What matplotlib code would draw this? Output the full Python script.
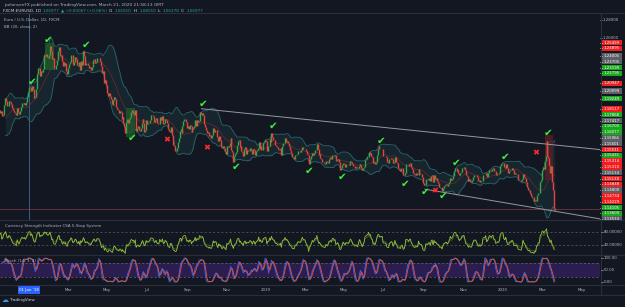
import numpy as np
import pandas as pd
import matplotlib
matplotlib.use('Agg')
import matplotlib.pyplot as plt
from matplotlib.patches import Rectangle

# FXCM:EURUSD daily closes, in pips (price x 10000)
close_2017 = [
    11645, 11645, 11620, 11655, 11610, 11610, 11585, 11590, 11645, 11665,   # Oct 30 - Nov 10
    11665, 11795, 11795, 11770, 11790, 11730, 11740, 11825, 11855, 11930,   # Nov 13 - Nov 24
    11896, 11845, 11847, 11905, 11893, 11863, 11826, 11795, 11773, 11773,   # Nov 27 - Dec 8
    11771, 11740, 11825, 11780, 11750, 11785, 11838, 11876, 11873, 11865,   # Dec 11 - Dec 22
    11880, 11860, 11892, 11940, 12005]                                      # Dec 25 - Dec 29
close_2018 = [
    12060, 12057, 12016, 12067, 12030, 11968, 11935, 11945, 12035, 12200,   # Jan
    12263, 12263, 12180, 12235, 12225, 12260, 12300, 12410, 12395, 12425,
    12385, 12380, 12415,
    12510, 12460, 12370, 12375, 12270, 12255, 12250, 12295, 12355, 12450,   # Feb
    12505, 12405, 12410, 12340, 12285, 12330, 12295, 12320, 12230, 12195,
    12265, 12315, 12335, 12410, 12410, 12310, 12305, 12335, 12390, 12370,   # Mar
    12305, 12290, 12335, 12240, 12345, 12300, 12355, 12450, 12400, 12305,
    12320, 12325,
    12300, 12270, 12275, 12240, 12280, 12315, 12355, 12365, 12325, 12330,   # Apr
    12380, 12375, 12375, 12345, 12285, 12210, 12230, 12235, 12100, 12130,
    12075,
    11990, 11950, 11985, 11960, 11925, 11865, 11850, 11915, 11940, 11925,   # May
    11835, 11810, 11795, 11770, 11790, 11780, 11700, 11720, 11655, 11625,
    11540, 11665, 11695,
    11660, 11695, 11720, 11775, 11800, 11770, 11780, 11740, 11795, 11570,   # Jun
    11605, 11625, 11575, 11570, 11605, 11655, 11700, 11655, 11555, 11575,
    11685,
    11640, 11655, 11660, 11690, 11745, 11745, 11740, 11730, 11670, 11685,   # Jul
    11710, 11660, 11645, 11645, 11720, 11690, 11685, 11730, 11645, 11660,
    11705, 11690,
    11660, 11585, 11565, 11550, 11610, 11600, 11525, 11410, 11405, 11345,   # Aug
    11345, 11380, 11440, 11485, 11570, 11590, 11540, 11625, 11680, 11700,
    11705, 11670, 11600,
    11620, 11585, 11630, 11625, 11550, 11590, 11600, 11625, 11690, 11625,   # Sep
    11685, 11670, 11675, 11775, 11750, 11745, 11770, 11740, 11645, 11610,
    11580, 11545, 11550, 11510, 11525, 11490, 11490, 11525, 11595, 11560,   # Oct
    11580, 11575, 11500, 11450, 11510, 11465, 11470, 11390, 11375, 11400,
    11375, 11340, 11310,
    11405, 11385, 11405, 11430, 11485, 11360, 11335, 11225, 11290, 11315,   # Nov
    11330, 11415, 11455, 11470, 11385, 11405, 11340, 11335, 11290, 11370,
    11390, 11315,
    11350, 11340, 11340, 11375, 11380, 11355, 11315, 11370, 11360, 11305,   # Dec
    11345, 11360, 11375, 11445, 11370, 11405, 11355, 11360, 11435, 11445,
    11465]
close_2019 = [
    11460, 11345, 11395, 11395, 11475, 11440, 11545, 11500, 11470, 11470,   # Jan
    11410, 11395, 11390, 11365, 11360, 11365, 11380, 11305, 11405, 11430,
    11430, 11485, 11445,
    11455, 11435, 11405, 11360, 11345, 11325, 11275, 11280, 11260, 11295,   # Feb
    11295, 11310, 11340, 11340, 11335, 11335, 11360, 11390, 11370, 11370,
    11365, 11340, 11310, 11305, 11195, 11235, 11250, 11285, 11325, 11305,   # Mar
    11325, 11355, 11350, 11420, 11370, 11300, 11315, 11270, 11250, 11225,
    11220,
    11215, 11205, 11235, 11225, 11215, 11260, 11265, 11275, 11260, 11300,   # Apr
    11305, 11285, 11295, 11235, 11245, 11255, 11225, 11155, 11135, 11150,
    11185, 11215,
    11195, 11170, 11200, 11195, 11195, 11190, 11215, 11235, 11225, 11205,   # May
    11175, 11175, 11160, 11165, 11160, 11150, 11180, 11205, 11190, 11160,
    11130, 11150, 11170,
    11240, 11255, 11275, 11275, 11335, 11310, 11325, 11285, 11275, 11210,   # Jun
    11220, 11195, 11225, 11295, 11370, 11395, 11365, 11370, 11370, 11370,
    11285, 11285, 11285, 11280, 11225, 11215, 11210, 11250, 11255, 11270,   # Jul
    11260, 11210, 11225, 11275, 11220, 11210, 11150, 11140, 11145, 11125,
    11150, 11155, 11075,
    11080, 11105, 11205, 11200, 11200, 11180, 11205, 11215, 11170, 11140,   # Aug
    11105, 11090, 11080, 11095, 11080, 11080, 11140, 11100, 11090, 11090,
    11055, 10985,
    10965, 10970, 11035, 11035, 11025, 11045, 11045, 11010, 11065, 11075,   # Sep
    11000, 11075, 11030, 11045, 11015, 10990, 10990, 10940, 10940, 10940,
    10900,
    10935, 10960, 10965, 10975, 10970, 10955, 10975, 10995, 11045, 11025,   # Oct
    11035, 11070, 11125, 11155, 11150, 11125, 11135, 11105, 11080, 11100,
    11110, 11155, 11150,
    11165, 11130, 11075, 11070, 11050, 11015, 11030, 11010, 11005, 11020,   # Nov
    11050, 11075, 11075, 11075, 11055, 11025, 11010, 11020, 11005, 11010,
    11015,
    11075, 11080, 11080, 11105, 11055, 11065, 11095, 11135, 11130, 11120,   # Dec
    11145, 11150, 11120, 11120, 11080, 11085, 11090, 11090, 11100, 11180,
    11200, 11215]
close_2020 = [
    11215, 11170, 11160, 11195, 11150, 11105, 11105, 11120, 11135, 11130,   # Jan
    11150, 11135, 11090, 11095, 11085, 11090, 11055, 11025, 11020, 11020,
    11010, 11030, 11090,
    11060, 11045, 11000, 10980, 10945, 10910, 10915, 10875, 10840, 10830,   # Feb
    10835, 10790, 10805, 10790, 10845, 10850, 10880, 10880, 10995, 11025,
    11135, 11170, 11140, 11235, 11285, 11450, 11285, 11270, 11185, 11100,   # Mar
    11180, 10995, 10910, 10715, 10690]

# tick marks / cross marks placed on the chart
check_dates = ['2018-01-30', '2018-03-29', '2018-01-04', '2018-06-08', '2018-09-26',
               '2018-11-15', '2019-01-11', '2019-03-08', '2019-04-29', '2019-06-27',
               '2019-08-02', '2019-09-03', '2019-10-01', '2019-10-22', '2020-01-03',
               '2020-03-11']
check_prices = [1.2578, 1.2522, 1.2111, 1.1490, 1.1867, 1.1167, 1.1622, 1.1122, 1.1056,
                1.1456, 1.0978, 1.0889, 1.0844, 1.1211, 1.1278, 1.1544]
cross_dates = ['2018-08-01', '2018-10-02', '2019-09-18', '2020-02-20']
cross_prices = [1.1467, 1.1378, 1.0905, 1.1322]

# channel lines (date, price)
upper_line = [('2018-09-24', 1.1814), ('2020-05-29', 1.1360)]
lower_line = [('2019-09-03', 1.0920), ('2020-05-29', 1.0590)]

# position boxes: start, end, top, bottom, colour
boxes = [('2018-01-25', '2018-02-08', 1.2544, 1.2244, '#1e5a2a'),
         ('2018-05-30', '2018-06-13', 1.1822, 1.1500, '#1e5a2a'),
         ('2020-03-05', '2020-03-18', 1.1520, 1.1020, '#5a1e28')]

# price scale labels on the right
scale_vals = ['1.25499', '1.24895', '1.24005', '1.23705', '1.23199', '1.22795', '1.20947',
              '1.20099', '1.19249', '1.18117', '1.17868', '1.17417', '1.16700', '1.16077',
              '1.15966', '1.15601', '1.15531', '1.15431', '1.15314', '1.15310', '1.15134',
              '1.15130', '1.14848', '1.14800', '1.14734', '1.14229', '1.14105', '1.13600',
              '1.13534']
scale_cols = ['r', 'r', 'k', 'k', 'g', 'g', 'r', 'k', 'g', 'r', 'g', 'k', 'g', 'g',
              'k', 'k', 'r', 'g', 'r', 'r', 'k', 'r', 'r', 'k', 'r', 'r', 'g', 'g', 'k']

tick_months = ['2018-03', '2018-05', '2018-07', '2018-09', '2018-11', '2019-01', '2019-03',
               '2019-05', '2019-07', '2019-09', '2019-11', '2020-01', '2020-03', '2020-05']
tick_labels = ['Mar', 'May', 'Jul', 'Sep', 'Nov', '2019', 'Mar', 'May', 'Jul', 'Sep',
               'Nov', '2020', 'Mar', 'May']

last_close = 1.06977

W, H = 625, 307
BG = '#131722'
GRID = '#2a2e39'
TXT = '#b2b5be'
UPC = '#3aa648'
DNC = '#f0403a'
BOXC = {'r': '#f01e1e', 'g': '#17a81d', 'k': '#5d5f66'}

closes = np.array(close_2017 + close_2018 + close_2019 + close_2020) / 10000.0
dates = pd.bdate_range('2017-10-30', periods=len(closes))
cal = pd.bdate_range('2017-10-30', '2020-07-31')
n = len(closes)
idx = np.arange(n)

def bar(d):
    return cal.get_indexer(pd.to_datetime(d))

PX = 0.908                      # pixels per bar
i_jan = bar(['2018-01-01'])[0]
X0 = i_jan - 29 / PX
X1 = i_jan + 571 / PX
PPX = 900.0                     # pixels per 1.0 of price
PMAX = 1.26 + 25 / PPX
PMIN = 1.26 - 182 / PPX

fig = plt.figure(figsize=(W / 100, H / 100), dpi=100)
fig.patch.set_facecolor(BG)

def pane(x0, y0, x1, y1):
    a = fig.add_axes([x0 / W, 1 - y1 / H, (x1 - x0) / W, (y1 - y0) / H])
    a.set_facecolor(BG)
    for s in a.spines.values():
        s.set_visible(False)
    a.set_xticks([])
    a.set_yticks([])
    return a

# ---- main price pane
ax = pane(0, 13, 600, 220)
ax.set_xlim(X0, X1)
ax.set_ylim(PMIN, PMAX)

s = pd.Series(closes)
mid = s.rolling(20).mean()
sd = s.rolling(20).std(ddof=0)
bb_up = mid + 2 * sd
bb_lo = mid - 2 * sd
ax.fill_between(idx, bb_lo, bb_up, color='#17262e', lw=0, zorder=1)
ax.plot(idx, bb_up, color='#2b666b', lw=0.6, zorder=2)
ax.plot(idx, bb_lo, color='#2b666b', lw=0.6, zorder=2)
ax.plot(idx, mid, color='#6e2a2c', lw=0.5, zorder=2)

for b0, b1, top, bot, col in boxes:
    i0, i1 = bar([b0, b1])
    ax.add_patch(Rectangle((i0, bot), i1 - i0, top - bot, color=col, alpha=0.8, lw=0, zorder=2.5))

opens = np.r_[closes[0], closes[:-1]]
up = closes >= opens
ax.vlines(idx[up], opens[up], closes[up], color=UPC, lw=1.0, zorder=3)
ax.vlines(idx[~up], closes[~up], opens[~up], color=DNC, lw=1.0, zorder=3)

for line in (upper_line, lower_line):
    ii = bar([p[0] for p in line])
    ax.plot(ii, [p[1] for p in line], color='#9598a1', lw=0.7, zorder=4)

ax.axhline(last_close, color='#6e3540', lw=0.6, zorder=1.5)
ax.axvline(i_jan, color='#3d5f8f', lw=0.7, zorder=1.5)

for d, p in zip(bar(check_dates), check_prices):
    ax.text(d, p, '\u2714', color='#3cf03c', fontsize=7.5, ha='center', va='center', zorder=6)
for d, p in zip(bar(cross_dates), cross_prices):
    ax.text(d, p, '\u2716', color='#ff2a2a', fontsize=6.0, ha='center', va='center', zorder=6)

# ---- right price scale
axr = pane(600, 13, 625, 220)
axr.set_xlim(0, 25)
axr.set_ylim(PMIN, PMAX)
for v, t in ((1.28, '1.28000'), (1.26, '1.26000')):
    axr.text(3, v, t, color=TXT, fontsize=2.8, va='center', ha='left')
    axr.plot([0, 1.6], [v, v], color=TXT, lw=0.4)
prev = -1e9
for t, c in zip(scale_vals, scale_cols):
    y = (PMAX - float(t)) * PPX
    y = max(y, prev + 5.8)
    prev = y
    v = PMAX - y / PPX
    axr.add_patch(Rectangle((1, v - 2.7 / PPX), 20.5, 5.4 / PPX, color=BOXC[c], lw=0))
    axr.plot([0, 1.6], [v, v], color='white', lw=0.4)
    axr.text(11.2, v, t, color='white', fontsize=2.8, va='center', ha='center')

# ---- currency strength pane
def rsi(x, k):
    d = np.diff(x, prepend=x[0])
    g = pd.Series(np.clip(d, 0, None)).ewm(alpha=1 / k, adjust=False).mean()
    l = pd.Series(np.clip(-d, 0, None)).ewm(alpha=1 / k, adjust=False).mean()
    return 100 - 100 / (1 + g / l)

ax2 = pane(0, 220, 600, 255)
ax2.set_xlim(X0, X1)
ax2.set_ylim(40 - 10 / 0.333, 80 + 11.5 / 0.333)
for lv in (80, 40):
    ax2.axhline(lv, color='#5d606b', lw=0.5, ls=(0, (3, 3)))
ax2.plot(idx, rsi(closes, 14), color='#2d6a2d', lw=0.55)
ax2.plot(idx, rsi(closes, 9), color='#a5c43a', lw=0.55)

# ---- stochastic pane
ax3 = pane(0, 255, 600, 285)
ax3.set_xlim(X0, X1)
ax3.set_ylim(-3 / 0.24, 100 + 3 / 0.24)
ax3.axhspan(20, 80, color='#2b1d4f', lw=0)
for lv in (80, 20):
    ax3.axhline(lv, color='#6a6d78', lw=0.5, ls=(0, (3, 3)))
hh = s.rolling(14).max()
ll = s.rolling(14).min()
k_raw = 100 * (s - ll) / (hh - ll)
k_line = k_raw.rolling(3).mean()
d_line = k_line.rolling(3).mean()
ax3.plot(idx, k_line, color='#2f6bff', lw=0.6)
ax3.plot(idx, d_line, color='#f2542d', lw=0.6)

# ---- overlay in pixel coordinates for frame and texts
ov = fig.add_axes([0, 0, 1, 1])
ov.set_xlim(0, W)
ov.set_ylim(H, 0)
ov.axis('off')
ov.patch.set_alpha(0)
for y in (13, 220, 255, 285, 295):
    ov.plot([0, W], [y, y], color=GRID, lw=0.8)
ov.plot([600.5, 600.5], [13, 295], color=GRID, lw=0.8)

ov.text(4, 4.8, 'joelonsenFX published on TradingView.com, March 21, 2020 21:58:13 GMT',
        color=TXT, fontsize=3.1, va='center')
hdr = [('FXCM:EURUSD, 1D', '#d1d4dc'), ('1.06977', '#26a69a'),
       ('\u25b2 +0.00067 (+0.06%)', '#26a69a'), ('O:', '#d1d4dc'),
       ('1.06910', '#26a69a'), ('H:', '#d1d4dc'), ('1.08010', '#26a69a'),
       ('L:', '#d1d4dc'), ('1.06378', '#26a69a'), ('C:', '#d1d4dc'),
       ('1.06977', '#26a69a')]
rend = fig.canvas.get_renderer()
xh = 3
for t, c in hdr:
    tt = ov.text(xh, 10.6, t, color=c, fontsize=3.0, va='center')
    xh += tt.get_window_extent(rend).width + 1.6
ov.text(4, 20, 'Euro / U.S. Dollar, 1D, FXCM', color=TXT, fontsize=2.9, va='center')
ov.text(4, 26.5, 'BB (20, close, 2)', color=TXT, fontsize=2.9, va='center')
ov.text(5, 226, 'Currency Strength Indicator CSA 5-Step System', color=TXT, fontsize=2.9,
        va='center')
ov.text(5, 261, 'Stoch (14, 3, 3)', color=TXT, fontsize=2.9, va='center')

for y, t in ((231.7, '80.00000'), (245, '40.00000'), (258, '100.00'), (270, '50.00'),
             (282, '0.00')):
    ov.plot([600.5, 602.5], [y, y], color=TXT, lw=0.4)
    ov.text(604, y, t, color=TXT, fontsize=2.8, va='center')

# time axis
for m, lab in zip(tick_months, tick_labels):
    i = bar([pd.Timestamp(m + '-01') + pd.offsets.BDay(0)])[0]
    xp = 29 + (i - i_jan) * PX
    ov.text(xp, 290, lab, color=TXT, fontsize=2.9, ha='center', va='center')
ov.add_patch(Rectangle((18, 286), 22, 7.5, color='#2962ff', lw=0))
ov.text(29, 290, "01 Jan '18", color='white', fontsize=2.9, ha='center', va='center')

ov.text(2, 300.5, '\u2601', color='#2e9bf0', fontsize=5, va='center')
ov.text(10, 300.5, 'TradingView', color='#d1d4dc', fontsize=3.1, va='center')

fig.savefig('out.png', dpi=100, facecolor=BG)
